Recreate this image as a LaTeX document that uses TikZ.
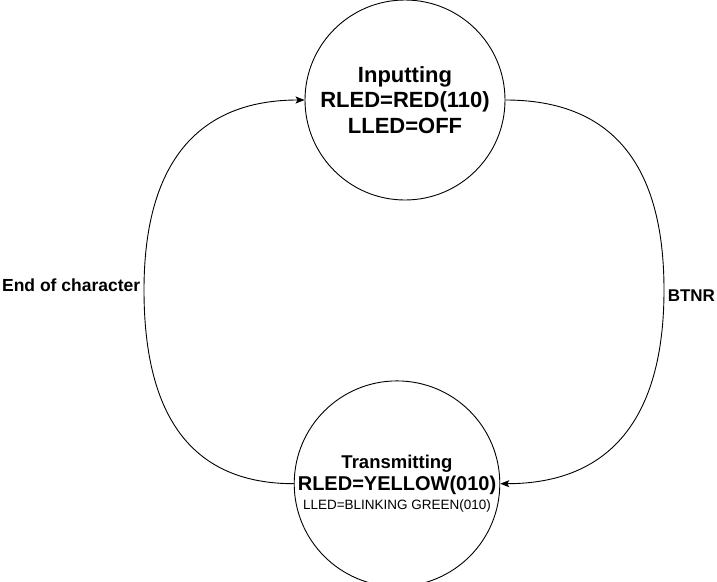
\documentclass[tikz,border=0pt]{standalone}
\usepackage{fontspec}
\setmainfont{Liberation Sans}
\usetikzlibrary{automata, positioning, arrows.meta, calc}

\begin{document}
\begin{tikzpicture}[->, >={Stealth[length=9pt,width=7pt,inset=2pt]}, x=1pt, y=-1pt, line width=0.9pt,
	every state/.style={draw, circle, minimum size=200pt, inner sep=0pt, align=center}]
	\useasboundingbox (0,0) rectangle (717,581);
	
	\node[state, font=\fontsize{22}{25.5}\selectfont\bfseries](I) at (405,100){Inputting\\RLED=RED(110)\\LLED=OFF};
	\node[state, font=\fontsize{20}{20}\selectfont\bfseries](T)[below=180pt of I, xshift=-8pt]{%
		{\fontsize{18.5}{20}\selectfont Transmitting}\\[1.5pt]
		RLED=YELLOW(010)\\[-1pt]
		{\fontsize{13.5}{16}\selectfont\mdseries LLED=BLINKING GREEN(010)}};
	
	\coordinate (L) at (144,290);
	\coordinate (R) at (664,290);
	
	% quadratic corners, written as cubics
	\draw (T.west) .. controls ($(T.west)!2/3!(T.west -| L)$) and ($(L)!2/3!(T.west -| L)$) .. (L)
		node[left, font=\fontsize{17.5}{20}\selectfont\bfseries, yshift=5pt]{End of character}
		.. controls ($(L)!2/3!(I.west -| L)$) and ($(I.west)!2/3!(I.west -| L)$) .. (I.west);
	
	\draw (I.east) .. controls ($(I.east)!2/3!(I.east -| R)$) and ($(R)!2/3!(I.east -| R)$) .. (R)
		node[right, font=\fontsize{17}{20}\selectfont\bfseries, yshift=-6pt]{BTNR}
		.. controls ($(R)!2/3!(T.east -| R)$) and ($(T.east)!2/3!(T.east -| R)$) .. (T.east);
\end{tikzpicture}
\end{document}
